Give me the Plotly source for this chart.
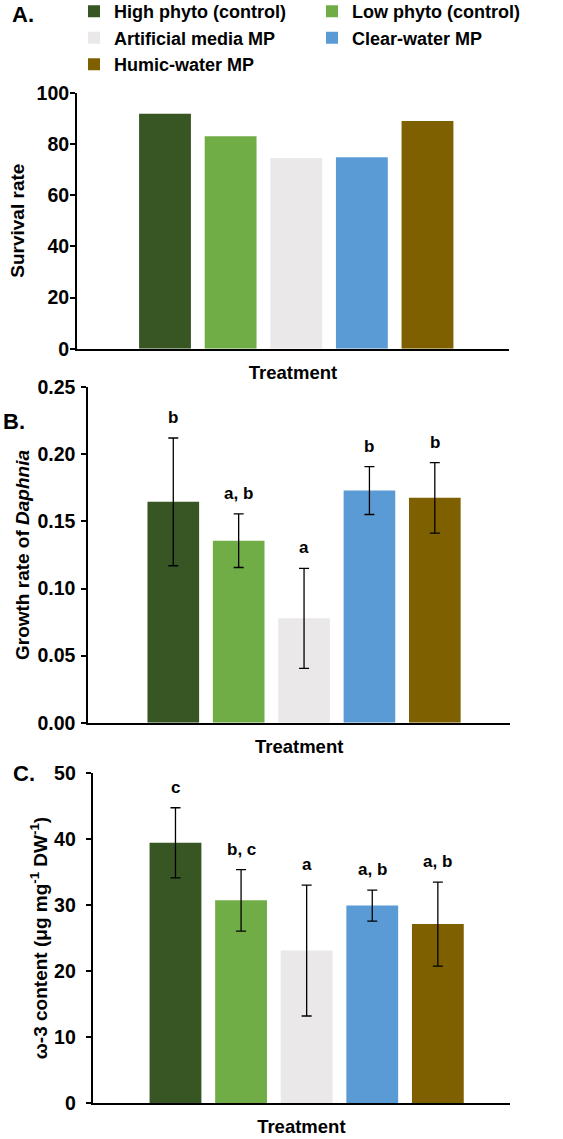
import plotly.graph_objects as go

# ---------------- data ----------------
treatments = ["High phyto (control)", "Low phyto (control)", "Artificial media MP",
              "Clear-water MP", "Humic-water MP"]
colors = ["#375623", "#70AD47", "#EAE8E8", "#5B9BD5", "#7F6000"]

survival = [91.8, 83.0, 74.5, 74.8, 88.9]

growth = [0.1646, 0.1357, 0.0778, 0.1730, 0.1676]
growth_err = [0.0476, 0.0200, 0.0373, 0.0178, 0.0263]
growth_letters = ["b", "a, b", "a", "b", "b"]

omega3 = [39.4, 30.7, 23.1, 29.9, 27.1]
omega3_err = [5.3, 4.65, 9.9, 2.35, 6.35]
omega3_letters = ["c", "b, c", "a", "a, b", "a, b"]

# ---------------- layout helpers ----------------
W, H = 563, 1139
ML, MR = 77, 53
PW = W - ML - MR
FAM = "Liberation Sans, Arial, sans-serif"


def px_x(px):
    return (px - ML) / PW


def px_y(py):
    return 1 - py / H


fig = go.Figure()

panels = [
    ("x", "y", survival, None),
    ("x2", "y2", growth, growth_err),
    ("x3", "y3", omega3, omega3_err),
]
for pi, (xa, ya, vals, errs) in enumerate(panels):
    for i, t in enumerate(treatments):
        kw = {}
        if errs is not None:
            kw["error_y"] = dict(type="data", array=[errs[i]], color="black",
                                 thickness=1.3, width=5)
        fig.add_trace(go.Bar(
            x=[t], y=[vals[i]], name=t, legendgroup=t,
            showlegend=(pi == 0), marker=dict(color=colors[i], line=dict(width=0)),
            width=0.79, xaxis=xa, yaxis=ya, **kw))

bold = dict(family=FAM, color="black", weight="bold")

# significance letters
annotations = []
for i, t in enumerate(treatments):
    annotations.append(dict(x=t, y=growth[i] + growth_err[i], xref="x2", yref="y2",
                            text=growth_letters[i], showarrow=False, yanchor="bottom",
                            yshift=9, font=dict(size=17, **bold)))
    annotations.append(dict(x=t, y=omega3[i] + omega3_err[i], xref="x3", yref="y3",
                            text=omega3_letters[i], showarrow=False, yanchor="bottom",
                            yshift=9, font=dict(size=17, **bold)))

# panel labels
for lab, cx, cy in [("A.", 23, 14.5), ("B.", 13.5, 421), ("C.", 24, 773)]:
    annotations.append(dict(x=px_x(cx), y=px_y(cy), xref="paper", yref="paper",
                            text=lab, showarrow=False, xanchor="center", yanchor="middle",
                            font=dict(size=22, **bold)))


def xax(dom, rng):
    return dict(domain=dom, type="category", range=rng, showline=True, linecolor="black",
                linewidth=2, showticklabels=False, ticks="", showgrid=False, zeroline=False,
                title=dict(text="Treatment", font=dict(size=18.5, **bold), standoff=16))


def yax(dom, rng, dtick, title, fmt=None, standoff=0, lblstand=0):
    d = dict(domain=dom, range=rng, dtick=dtick, showline=True, linecolor="black",
             linewidth=2, ticks="outside", ticklen=5, tickwidth=1.5, tickcolor="black",
             showgrid=False, zeroline=False, tickfont=dict(size=19.5, **bold),
             ticklabelstandoff=lblstand,
             title=dict(text=title, font=dict(size=19, **bold), standoff=standoff))
    if fmt:
        d["tickformat"] = fmt
    return d


fig.update_layout(
    width=W, height=H,
    margin=dict(l=ML, r=MR, t=0, b=0, autoexpand=False),
    paper_bgcolor="white", plot_bgcolor="white",
    barmode="overlay",
    font=dict(family=FAM, color="black"),
    xaxis=dict(xax([0, px_x(509)], [-1.341, 5.242]), anchor="y"),
    yaxis=dict(yax([px_y(348.7), px_y(92.7)], [0, 100], 20, "Survival rate",
                   standoff=7, lblstand=-3), anchor="x"),
    xaxis2=dict(xax([px_x(88.3), 1], [-1.30, 5.15]), anchor="y2"),
    yaxis2=dict(yax([px_y(722.7), px_y(387.3)], [0, 0.25], 0.05,
                    "Growth rate of <i>Daphnia</i>", fmt=".2f", standoff=3, lblstand=2),
                anchor="x2"),
    xaxis3=dict(xax([px_x(92.7), 1], [-1.262, 5.10]), anchor="y3"),
    yaxis3=dict(yax([px_y(1103.3), px_y(772.7)], [0, 50], 10,
                    "ω-3 content (μg mg<sup>-1</sup> DW<sup>-1</sup>)", standoff=1, lblstand=6),
                anchor="x3"),
    legend=dict(orientation="h", x=px_x(74), xanchor="left", y=1.006, yanchor="top",
                font=dict(size=18, **bold), itemwidth=30, tracegroupgap=0,
                entrywidth=193, bgcolor="rgba(0,0,0,0)"),
    annotations=annotations,
    showlegend=True,
)

fig.write_html("out.html", config={"displayModeBar": False},
               post_script="document.body.style.margin='0';")
